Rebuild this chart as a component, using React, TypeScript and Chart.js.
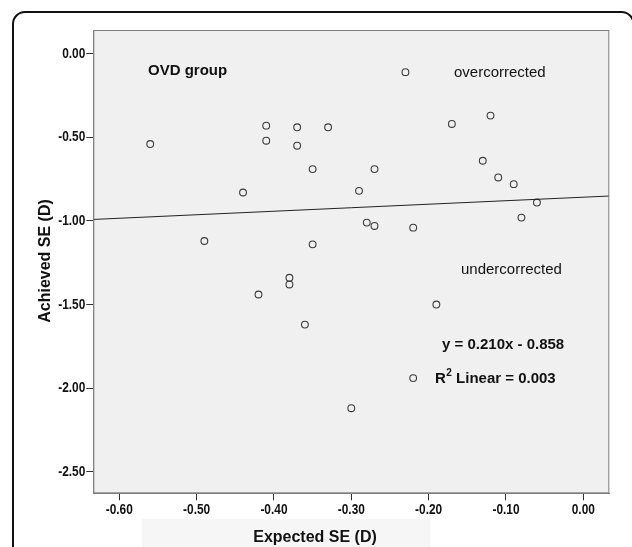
import React, { useEffect, useRef } from "react";
import { Chart, registerables } from "chart.js";

Chart.register(...registerables);

// ---- data ----
const expectedSE = [
  -0.56, -0.41, -0.41, -0.37, -0.37, -0.35, -0.44, -0.49, -0.35, -0.38,
  -0.38, -0.42, -0.33, -0.17, -0.27, -0.29, -0.13, -0.11, -0.09, -0.06,
  -0.08, -0.28, -0.27, -0.22, -0.23, -0.12, -0.36, -0.19, -0.22, -0.30,
];
const achievedSE = [
  -0.54, -0.43, -0.52, -0.44, -0.55, -0.69, -0.83, -1.12, -1.14, -1.34,
  -1.38, -1.44, -0.44, -0.42, -0.69, -0.82, -0.64, -0.74, -0.78, -0.89,
  -0.98, -1.01, -1.03, -1.04, -0.11, -0.37, -1.62, -1.50, -1.94, -2.12,
];
const xTickValues = [-0.6, -0.5, -0.4, -0.3, -0.2, -0.1, 0];
const yTickValues = [0, -0.5, -1, -1.5, -2, -2.5];
const xTickLabels = ["-0.60", "-0.50", "-0.40", "-0.30", "-0.20", "-0.10", "0.00"];
const yTickLabels = ["0.00", "-0.50", "-1.00", "-1.50", "-2.00", "-2.50"];
const xRange = [-0.6336, 0.0336];
const yRange = [-2.629, 0.142];
const fitSlope = 0.21;
const fitIntercept = -0.858;

const xTitle = "Expected SE (D)";
const yTitle = "Achieved SE (D)";
const groupLabel = "OVD group";
const overLabel = "overcorrected";
const underLabel = "undercorrected";
const eqLabel = "y = 0.210x - 0.858";
const r2Label = " Linear = 0.003";

const MAIN_FONT = '"Liberation Sans", Arial, sans-serif';

const decorPlugin = {
  id: "decor",
  beforeDraw(chart: any) {
    const { ctx, chartArea: a } = chart;
    ctx.save();
    ctx.fillStyle = "#ffffff";
    ctx.fillRect(0, 0, chart.width, chart.height);
    ctx.fillStyle = "#f6f6f6";
    ctx.fillRect(142, 519, 288, 28);
    ctx.fillStyle = "#f0f0f0";
    ctx.fillRect(a.left, a.top, a.right - a.left, a.bottom - a.top);
    ctx.restore();
  },
  afterDraw(chart: any) {
    const { ctx, chartArea: a } = chart;
    const xs = chart.scales.x;
    const ys = chart.scales.y;
    ctx.save();
    // plot frame
    ctx.strokeStyle = "#808080";
    ctx.lineWidth = 1;
    ctx.strokeRect(a.left + 0.5, a.top + 0.5, a.right - a.left - 1, a.bottom - a.top - 1);

    // tick labels (narrow bold, drawn at the scale's own pixel positions)
    ctx.fillStyle = "#111111";
    ctx.textBaseline = "middle";
    ctx.font = `bold 14.5px ${MAIN_FONT}`;
    xTickValues.forEach((v, i) => {
      const px = xs.getPixelForValue(v);
      ctx.save();
      ctx.translate(px, a.bottom + 17);
      ctx.scale(0.82, 1);
      ctx.textAlign = "center";
      ctx.fillText(xTickLabels[i], 0, 0);
      ctx.restore();
    });
    yTickValues.forEach((v, i) => {
      const py = ys.getPixelForValue(v);
      ctx.save();
      ctx.translate(a.left - 8, py);
      ctx.scale(0.82, 1);
      ctx.textAlign = "right";
      ctx.fillText(yTickLabels[i], 0, 0);
      ctx.restore();
    });

    ctx.textAlign = "left";
    ctx.font = `bold 15px ${MAIN_FONT}`;
    ctx.fillText(groupLabel, 148, 71);
    ctx.font = `15px ${MAIN_FONT}`;
    ctx.fillText(overLabel, 454, 73);
    ctx.fillText(underLabel, 461, 270);
    ctx.font = `bold 15px ${MAIN_FONT}`;
    ctx.fillText(eqLabel, 442, 345);
    ctx.fillText("R", 435, 379);
    const rw = ctx.measureText("R").width;
    ctx.font = `bold 10px ${MAIN_FONT}`;
    ctx.fillText("2", 435 + rw + 0.5, 373);
    const tw = ctx.measureText("2").width;
    ctx.font = `bold 15px ${MAIN_FONT}`;
    ctx.fillText(r2Label, 435 + rw + tw + 0.5, 379);

    // axis titles
    ctx.font = `bold 16px ${MAIN_FONT}`;
    ctx.textAlign = "center";
    ctx.fillText(xTitle, 315, 538);
    ctx.save();
    ctx.translate(46, 261);
    ctx.rotate(-Math.PI / 2);
    ctx.fillText(yTitle, 0, 0);
    ctx.restore();

    // outer rounded frame
    ctx.strokeStyle = "#111111";
    ctx.lineWidth = 2;
    const x0 = 13, y0 = 12, x1 = 633.5, r = 12;
    ctx.beginPath();
    ctx.moveTo(x0, 560);
    ctx.lineTo(x0, y0 + r);
    ctx.arcTo(x0, y0, x0 + r, y0, r);
    ctx.lineTo(x1 - r, y0);
    ctx.arcTo(x1, y0, x1, y0 + r, r);
    ctx.lineTo(x1, 560);
    ctx.stroke();
    ctx.restore();
  },
};

export default function App() {
  const ref = useRef<HTMLCanvasElement | null>(null);
  useEffect(() => {
    document.body.style.margin = "0";
    const points = expectedSE.map((x, i) => ({ x, y: achievedSE[i] }));
    const fit = xRange.map((x) => ({ x, y: fitSlope * x + fitIntercept }));
    const tickFont = { family: MAIN_FONT, size: 13, weight: "bold" as const };
    const chart = new Chart(ref.current as HTMLCanvasElement, {
      type: "scatter",
      data: {
        datasets: [
          {
            type: "line",
            data: fit,
            borderColor: "#222222",
            borderWidth: 1,
            pointRadius: 0,
            showLine: true,
            fill: false,
          } as any,
          {
            data: points,
            pointRadius: 3.4,
            pointStyle: "circle",
            backgroundColor: "rgba(0,0,0,0)",
            borderColor: "#3a3a3a",
            borderWidth: 1.1,
          },
        ],
      },
      options: {
        responsive: false,
        animation: false,
        layout: { padding: { top: 30, right: 22.7, left: 0, bottom: 0 } },
        plugins: { legend: { display: false }, tooltip: { enabled: false } },
        scales: {
          x: {
            type: "linear",
            min: xRange[0],
            max: xRange[1],
            afterBuildTicks: (s: any) => {
              s.ticks = xTickValues.map((v) => ({ value: v }));
            },
            afterFit: (s: any) => {
              s.height = 53.7;
            },
            ticks: {
              font: tickFont,
              color: "rgba(0,0,0,0)",
              padding: 3,
              maxRotation: 0,
              autoSkip: false,
              callback: (_v: any, i: number) => xTickLabels[i],
            },
            grid: {
              drawOnChartArea: false,
              drawTicks: true,
              tickLength: 7,
              color: "#333333",
              lineWidth: 1,
            },
            border: { display: true, color: "#808080" },
          },
          y: {
            type: "linear",
            min: yRange[0],
            max: yRange[1],
            afterBuildTicks: (s: any) => {
              s.ticks = yTickValues.map((v) => ({ value: v }));
            },
            afterFit: (s: any) => {
              s.width = 93.3;
            },
            ticks: {
              font: tickFont,
              color: "rgba(0,0,0,0)",
              padding: 1,
              autoSkip: false,
              callback: (_v: any, i: number) => yTickLabels[i],
            },
            grid: {
              drawOnChartArea: false,
              drawTicks: true,
              tickLength: 7,
              color: "#333333",
              lineWidth: 1,
            },
            border: { display: true, color: "#808080" },
          },
        },
      },
      plugins: [decorPlugin],
    });
    return () => chart.destroy();
  }, []);
  return <canvas ref={ref} width={632} height={547} style={{ display: "block" }} />;
}
